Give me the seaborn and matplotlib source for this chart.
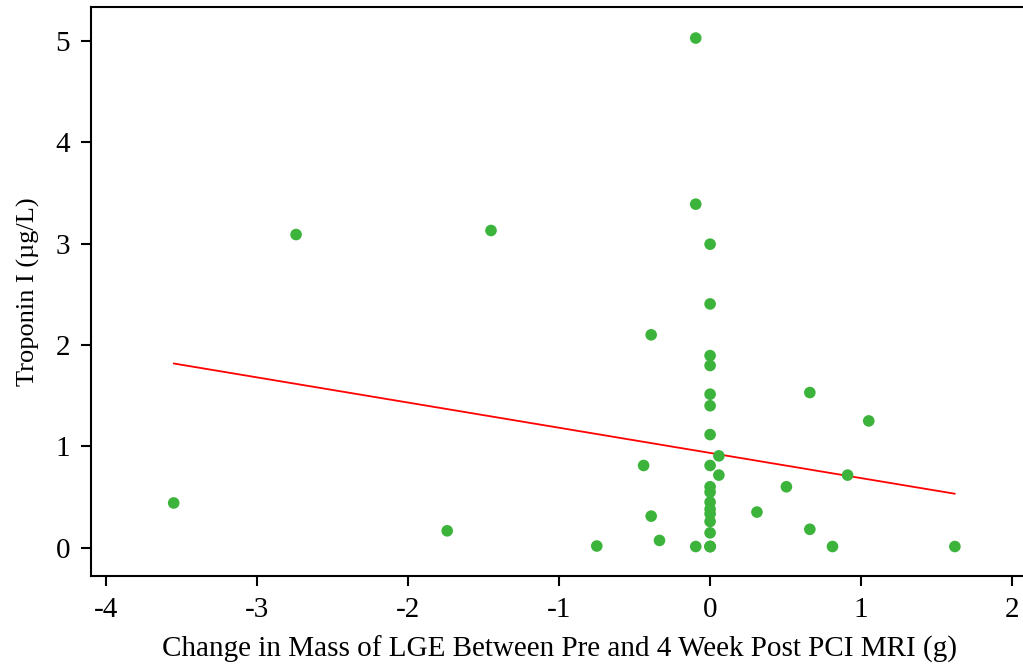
import pandas as pd
import matplotlib
matplotlib.use("Agg")
import matplotlib.pyplot as plt
import seaborn as sns

sns.set_theme(style='ticks')
plt.rcParams['font.family'] = ['Liberation Serif', 'DejaVu Serif']
plt.rcParams['axes.unicode_minus'] = False

# change in LGE mass (g) and troponin I (ug/L)
lge_change = [-3.55, -2.74, -1.74, -1.45, -0.75, -0.44, -0.39, -0.39, -0.335,
              -0.095, -0.095, -0.095,
              0, 0, 0, 0, 0, 0, 0, 0, 0, 0, 0, 0, 0, 0, 0, 0, 0, 0,
              0.058, 0.058, 0.31, 0.505, 0.66, 0.66, 0.81, 0.91, 1.05, 1.62]
troponin = [0.44, 3.09, 0.165, 3.13, 0.015, 0.81, 2.10, 0.31, 0.07,
            5.03, 3.39, 0.01,
            2.995, 2.405, 1.895, 1.797, 1.514, 1.40, 1.115, 0.81, 0.60, 0.547,
            0.448, 0.379, 0.333, 0.257, 0.145, 0.01, 0.01, 0.01,
            0.905, 0.715, 0.35, 0.60, 1.53, 0.18, 0.01, 0.715, 1.25, 0.01]

# fitted line as drawn
fit_x = [-3.55, 1.62]
fit_y = [1.817, 0.531]

df = pd.DataFrame({'x': lge_change, 'y': troponin})
fit = pd.DataFrame({'x': fit_x, 'y': fit_y})

fig = plt.figure(figsize=(10.23, 6.65), dpi=100)
# axes runs off the right edge, as in the original crop
ax = fig.add_axes([0.089, 0.134, 0.915, 0.856])

sns.lineplot(data=fit, x='x', y='y', color='#ff0000', linewidth=1.3, ax=ax)
sns.scatterplot(data=df, x='x', y='y', color='#3cb43c', s=70, edgecolor='none', ax=ax, zorder=3)

ax.set_xlim(-4.097, -4.097 + 0.915 * 1023 / 151.1)
ax.set_ylim(-0.28, 5.34)
ax.set_xticks([-4, -3, -2, -1, 0, 1, 2])
ax.set_yticks([0, 1, 2, 3, 4, 5])
ax.set_xlabel('Change in Mass of LGE Between Pre and 4 Week Post PCI MRI (g)',
              fontsize=21, labelpad=9, color='black')
ax.set_ylabel('Troponin I (µg/L)', fontsize=19, labelpad=11, color='black')
ax.tick_params(labelsize=21, length=7, width=1.5, color='black', labelcolor='black', pad=8)
for s in ['left', 'bottom', 'top']:
    ax.spines[s].set_linewidth(1.5)
    ax.spines[s].set_color('black')
ax.spines['right'].set_visible(False)

fig.savefig('out.png', dpi=100)
